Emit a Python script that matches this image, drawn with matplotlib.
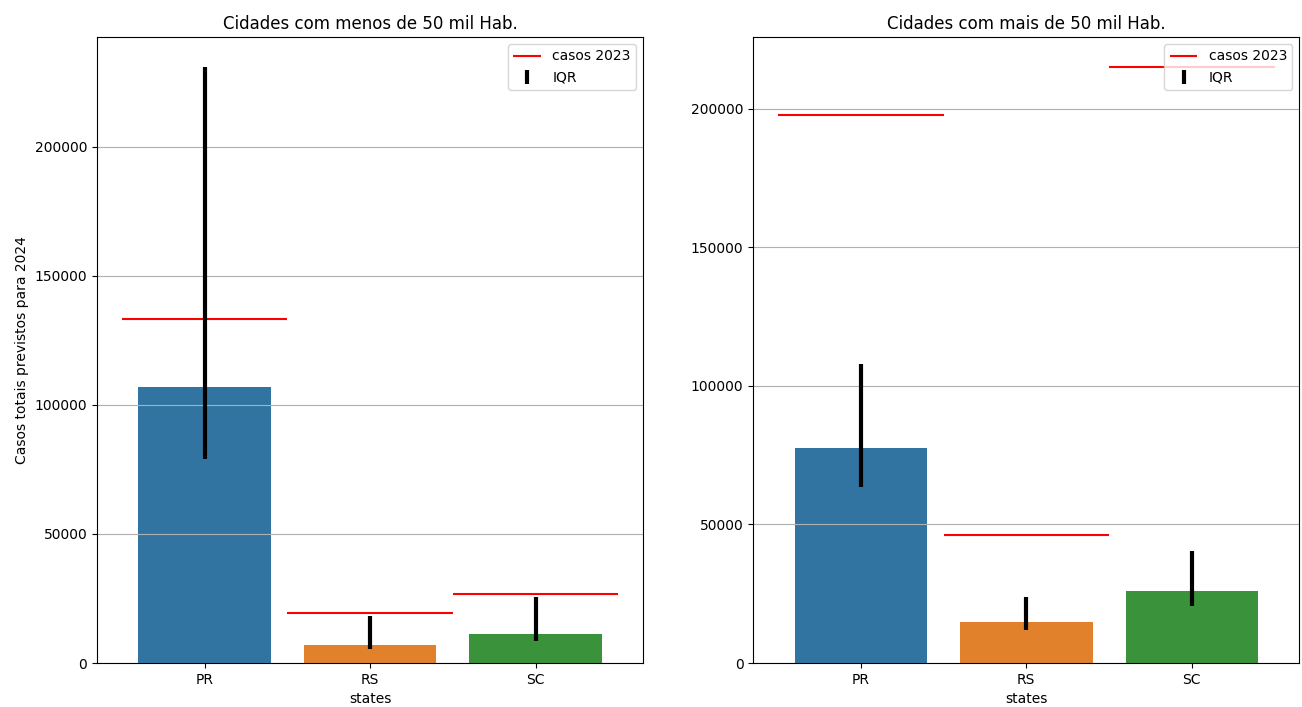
import numpy as np
import matplotlib
matplotlib.use("Agg")
import matplotlib.pyplot as plt

states = ["PR", "RS", "SC"]
colors = ["#3274a1", "#e1812c", "#3a923a"]

# cidades com menos de 50 mil habitantes
small_pred = [107000, 7000, 11300]
small_q25 = [79100, 5400, 8500]
small_q75 = [231000, 18200, 25600]
small_2023 = [133300, 19400, 26700]

# cidades com mais de 50 mil habitantes
big_pred = [77500, 14800, 25900]
big_q25 = [63400, 11900, 20500]
big_q75 = [108100, 23800, 40400]
big_2023 = [197900, 46100, 215200]


def draw_panel(ax, pred, q25, q75, cases_2023, title):
    x = np.arange(len(states))
    ax.bar(x, pred, width=0.8, color=colors)
    ax.hlines(cases_2023, x - 0.5, x + 0.5, color="red", linewidth=1.5,
              label="casos 2023")
    pred = np.array(pred)
    yerr = np.array([pred - np.array(q25), np.array(q75) - pred])
    ax.errorbar(x, pred, yerr=yerr, fmt="none", ecolor="black",
                elinewidth=3, label="IQR")
    ax.set_xticks(x)
    ax.set_xticklabels(states)
    ax.set_xlabel("states")
    ax.set_title(title)
    ax.grid(axis="y")
    ax.legend(loc="upper right")


fig = plt.figure(figsize=(13.02, 7.07), dpi=100)
ax1 = fig.add_axes([0.0745, 0.0622, 0.4195, 0.8855])
ax2 = fig.add_axes([0.5785, 0.0622, 0.4195, 0.8855])

draw_panel(ax1, small_pred, small_q25, small_q75, small_2023,
           "Cidades com menos de 50 mil Hab.")
ax1.set_ylabel("Casos totais previstos para 2024")
draw_panel(ax2, big_pred, big_q25, big_q75, big_2023,
           "Cidades com mais de 50 mil Hab.")

fig.savefig("out.png", dpi=100)
